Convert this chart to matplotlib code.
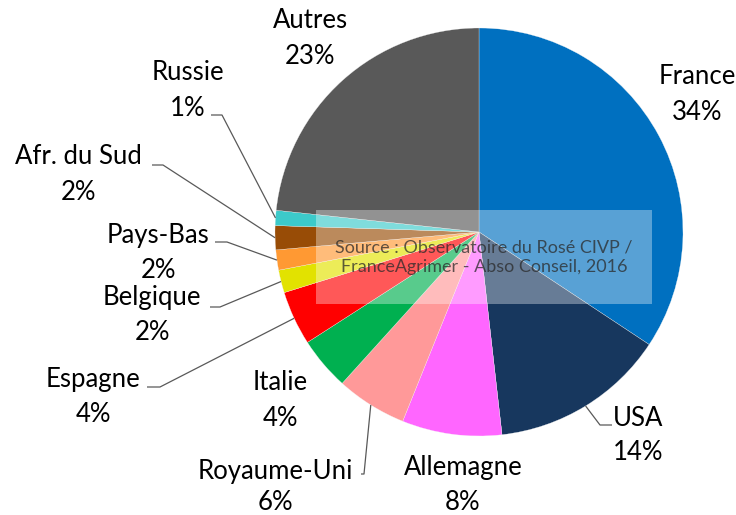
import numpy as np
import matplotlib
matplotlib.use('Agg')
import matplotlib.pyplot as plt
from matplotlib.patches import Rectangle

# data, clockwise from 12 o'clock
countries = ['France', 'USA', 'Allemagne', 'Royaume-Uni', 'Italie', 'Espagne',
             'Belgique', 'Pays-Bas', 'Afr. du Sud', 'Russie', 'Autres']
shares = [34.3, 13.9, 7.9, 5.6, 4.2, 4.3, 1.8, 1.6, 1.9, 1.2, 23.3]
colors = ['#0070C0', '#17375E', '#FF66FF', '#FF9999', '#00B050', '#FF0000',
          '#E2E200', '#FF9933', '#984C06', '#3CCACA', '#595959']
source = 'Source : Observatoire du Rosé CIVP /\nFranceAgrimer - Abso Conseil, 2016'

W, H = 736, 515
plt.rcParams['font.family'] = ['Lato', 'DejaVu Sans']
fig = plt.figure(figsize=(W / 100, H / 100), dpi=100)
ax = fig.add_axes([0, 0, 1, 1])

def fy(y):
    return H - y

cx, cy, r = 479, fy(232), 204
wedges, _ = ax.pie(shares, colors=colors, startangle=90, counterclock=False,
                   center=(cx, cy), radius=r, frame=True,
                   wedgeprops=dict(edgecolor='#f4f4f4', linewidth=0.2))
ax.set_xlim(0, W)
ax.set_ylim(0, H)
ax.set_aspect('equal')
ax.axis('off')

# label layout: (x centre, y of name line, y of pct line, knee start, knee end) in pixels
layout = {
    'France': (697, 77, 113, None, None),
    'USA': (638, 418, 453, (612, 425), (600, 425)),
    'Allemagne': (463, 468, 503, None, None),
    'Royaume-Uni': (275, 472, 503, (361, 474), (364, 474)),
    'Italie': (280, 382, 418, None, None),
    'Espagne': (93, 380, 415, (147, 387), (160, 387)),
    'Belgique': (152, 298, 333, (210, 307), (220, 307)),
    'Pays-Bas': (158, 235, 270, (215, 242), (227, 242)),
    'Afr. du Sud': (78, 157, 192, (152, 165), (163, 165)),
    'Russie': (188, 72, 108, (211, 115), (222, 115)),
    'Autres': (310, 20, 57, None, None),
}

fs = 18.5
for w, name, val in zip(wedges, countries, shares):
    x, y1, y2, k0, k1 = layout[name]
    ax.text(x, fy(y1), name, ha='center', va='center', fontsize=fs, color='black')
    ax.text(x, fy(y2), '{:.0f}%'.format(val), ha='center', va='center', fontsize=fs, color='black')
    if k0 is not None:
        th = np.deg2rad((w.theta1 + w.theta2) / 2)
        ex, ey = cx + r * np.cos(th), cy + r * np.sin(th)
        ax.plot([k0[0], k1[0], ex], [fy(k0[1]), fy(k1[1]), ey],
                color='#595959', lw=0.9, solid_capstyle='butt')

# translucent source box
ax.add_patch(Rectangle((316, fy(304)), 336, 94, facecolor='white', alpha=0.35,
                       edgecolor='none', zorder=5))
ax.text(484, fy(257), source, ha='center', va='center', fontsize=13,
        color='#2a2a2a', alpha=0.75, linespacing=1.25, zorder=6)

fig.savefig('out.png', dpi=100)
